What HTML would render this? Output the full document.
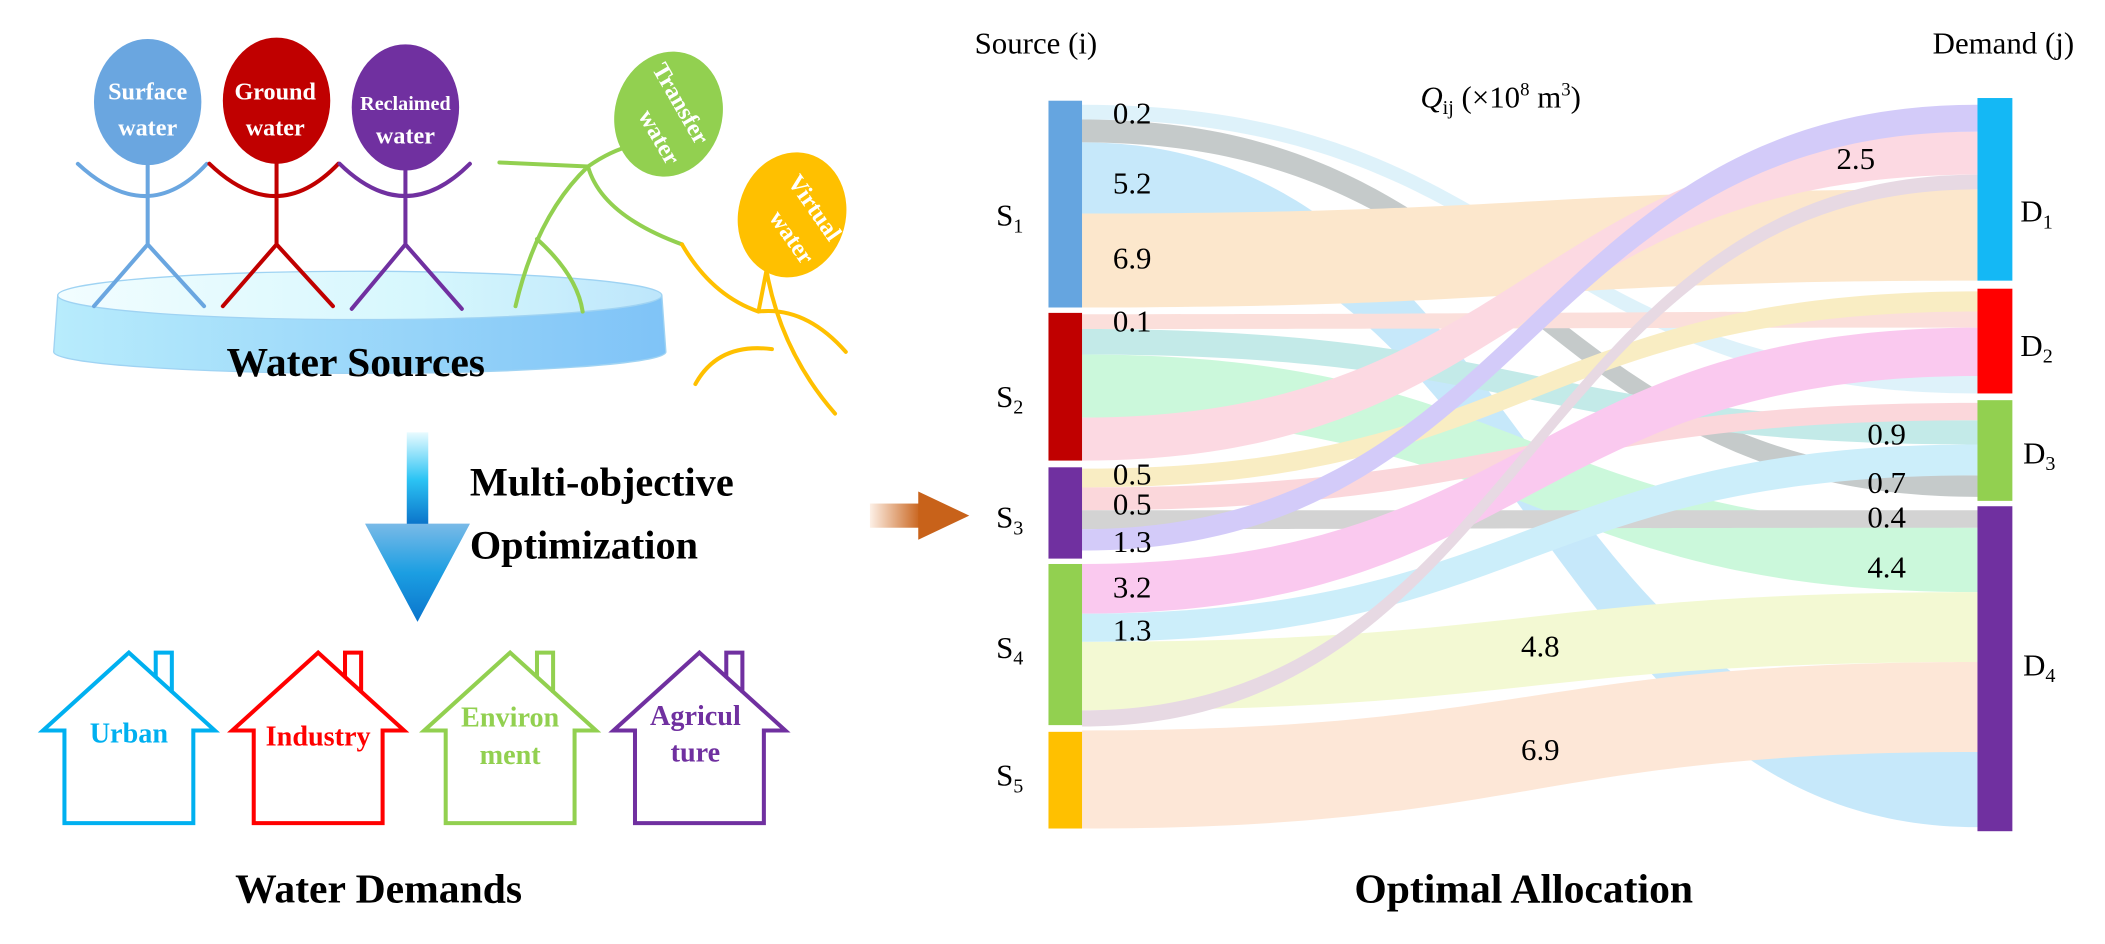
<!DOCTYPE html>
<html><head><meta charset="utf-8"><style>
html,body{margin:0;padding:0;background:#fff;}
svg{display:block;}
text{font-family:"Liberation Serif",serif;}
</style></head><body>
<svg width="2105" height="944" viewBox="0 0 1568 703" preserveAspectRatio="none" xmlns="http://www.w3.org/2000/svg">
<defs>
<linearGradient id="pool" x1="0" x2="1"><stop offset="0" stop-color="#b8ecfc"/><stop offset="1" stop-color="#7fc3f7"/></linearGradient>
<linearGradient id="pooltop" x1="0" x2="1"><stop offset="0" stop-color="#f2fdff"/><stop offset="0.6" stop-color="#d6f7fd"/><stop offset="1" stop-color="#bde6fb"/></linearGradient>
<linearGradient id="darr" x1="0" y1="0" x2="0" y2="1"><stop offset="0" stop-color="#e8fbff"/><stop offset="0.5" stop-color="#2cc4f4"/><stop offset="1" stop-color="#0a70c8"/></linearGradient>
<linearGradient id="oarr" x1="0" x2="1"><stop offset="0" stop-color="#fdf0e6"/><stop offset="1" stop-color="#c8621a"/></linearGradient>
</defs>
<rect width="1568" height="703" fill="#fff"/>

<!-- Pool -->
<path d="M43,220 L40,262 A228,16 0 0 0 496,262 L493,220 Z" fill="url(#pool)" stroke="#9fd3f3" stroke-width="1"/>
<ellipse cx="268" cy="220" rx="225" ry="18" fill="url(#pooltop)" stroke="#9fd3f3" stroke-width="1"/>
<text x="265" y="280" font-size="31" font-weight="bold" text-anchor="middle">Water Sources</text>

<!-- stick figures -->
<g fill="none" stroke-width="3" stroke-linecap="round">
 <g stroke="#6aa6e0"><path d="M110,120 V182 M58,122 Q110,170 154,122 M110,182 L70,228 M110,182 L152,228"/></g>
 <g stroke="#c00000"><path d="M206,120 V182 M156,122 Q206,170 252,122 M206,182 L166,228 M206,182 L248,228"/></g>
 <g stroke="#7030a0"><path d="M302,122 V182 M253,122 Q302,170 350,122 M302,182 L262,230 M302,182 L344,230"/></g>
 <g stroke="#92d050"><path d="M372,121 L438,124 Q455,112 472,108 M438,124 Q400,160 384,228 M400,178 Q430,205 434,232 M438,124 Q448,160 508,182"/></g>
 <g stroke="#ffc000"><path d="M508,182 Q530,220 565,232 M565,232 Q600,228 630,262 M570,196 Q580,260 622,308 M575,260 Q535,255 518,286 M565,232 L572,196"/></g>
</g>
<ellipse cx="110" cy="76" rx="40" ry="47" fill="#6aa6e0"/>
<ellipse cx="206" cy="75" rx="40" ry="47" fill="#c00000"/>
<ellipse cx="302" cy="80" rx="40" ry="47" fill="#7030a0"/>
<ellipse cx="498" cy="85" rx="40" ry="47" fill="#92d050" transform="rotate(15 498 85)"/>
<ellipse cx="590" cy="160" rx="40" ry="47" fill="#ffc000" transform="rotate(15 590 160)"/>
<g fill="#fff" font-weight="bold" font-size="18" text-anchor="middle">
 <text x="110" y="74">Surface</text><text x="110" y="101">water</text>
 <text x="205" y="74">Ground</text><text x="205" y="101">water</text>
 <text x="302" y="82" font-size="15">Reclaimed</text><text x="302" y="107">water</text>
 <text transform="translate(502,80) rotate(60)">Transfer</text>
 <text transform="translate(486,105) rotate(60)">water</text>
 <text transform="translate(602,158) rotate(55)">Virtual</text>
 <text transform="translate(585,180) rotate(55)">water</text>
</g>

<!-- down arrow -->
<rect x="303" y="322" width="16" height="70" fill="url(#darr)"/>
<path d="M272,390 L350,390 L311,463 Z" fill="#0b79d0"/>
<path d="M272,390 L350,390 L311,463 Z" fill="url(#darr)" opacity="0.5"/>
<text x="350" y="369" font-size="30" font-weight="bold">Multi-objective</text>
<text x="350" y="416" font-size="30" font-weight="bold">Optimization</text>

<!-- orange arrow -->
<rect x="648" y="375" width="38" height="18" fill="url(#oarr)"/>
<path d="M684,366 L722,384 L684,402 Z" fill="#c8621a"/>

<!-- houses -->
<g fill="none" stroke-width="3">
 <g stroke="#00b0f0"><path d="M96,486 L160,544 L144,544 L144,613 L48,613 L48,544 L32,544 Z M116,505 V486 H128 V516"/></g>
 <g stroke="#ff0000"><path d="M237,486 L301,544 L285,544 L285,613 L189,613 L189,544 L173,544 Z M257,505 V486 H269 V516"/></g>
 <g stroke="#92d050"><path d="M380,486 L444,544 L428,544 L428,613 L332,613 L332,544 L316,544 Z M400,505 V486 H412 V516"/></g>
 <g stroke="#7030a0"><path d="M521,486 L585,544 L569,544 L569,613 L473,613 L473,544 L457,544 Z M541,505 V486 H553 V516"/></g>
</g>
<g font-weight="bold" font-size="21" text-anchor="middle">
 <text x="96" y="553" fill="#00b0f0">Urban</text>
 <text x="237" y="555" fill="#ff0000">Industry</text>
 <text x="380" y="541" fill="#92d050">Environ</text>
 <text x="380" y="569" fill="#92d050">ment</text>
 <text x="518" y="540" fill="#7030a0">Agricul</text>
 <text x="518" y="567" fill="#7030a0">ture</text>
</g>
<text x="282" y="672" font-size="31" font-weight="bold" text-anchor="middle">Water Demands</text>

<!-- Sankey flows -->
<g opacity="0.5">
<path d="M806,78 C1140,78 1140,280 1473,280 L1473,293 C1140,293 1140,89 806,89 Z" fill="#bfe6f7"/>
<path d="M806,89 C1140,89 1140,354 1473,354 L1473,370 C1140,370 1140,106 806,106 Z" fill="#8c9696"/>
<path d="M806,106 C1140,106 1140,560 1473,560 L1473,616 C1140,616 1140,159 806,159 Z" fill="#8fd2f7"/>
<path d="M806,159 C1140,159 1140,141 1473,141 L1473,209 C1140,209 1140,229 806,229 Z" fill="#fbd09a"/>
<path d="M806,234 C1140,234 1140,232 1473,232 L1473,244 C1140,244 1140,245 806,245 Z" fill="#f8c0b8"/>
<path d="M806,245 C1140,245 1140,313 1473,313 L1473,331 C1140,331 1140,264 806,264 Z" fill="#88d6d2"/>
<path d="M806,264 C1140,264 1140,393 1473,393 L1473,441 C1140,441 1140,311 806,311 Z" fill="#98f3b8"/>
<path d="M806,311 C1140,311 1140,98 1473,98 L1473,130 C1140,130 1140,343 806,343 Z" fill="#fbb4c6"/>
<path d="M806,349 C1140,349 1140,217 1473,217 L1473,232 C1140,232 1140,363 806,363 Z" fill="#f4dd88"/>
<path d="M806,363 C1140,363 1140,300 1473,300 L1473,313 C1140,313 1140,380 806,380 Z" fill="#f8b0b8"/>
<path d="M806,380 C1140,380 1140,380 1473,380 L1473,393 C1140,393 1140,394 806,394 Z" fill="#a8a8a8"/>
<path d="M806,394 C1140,394 1140,78 1473,78 L1473,98 C1140,98 1140,410 806,410 Z" fill="#a898f5"/>
<path d="M806,420 C1140,420 1140,244 1473,244 L1473,280 C1140,280 1140,457 806,457 Z" fill="#f794e0"/>
<path d="M806,457 C1140,457 1140,331 1473,331 L1473,354 C1140,354 1140,478 806,478 Z" fill="#9adef7"/>
<path d="M806,478 C1140,478 1140,441 1473,441 L1473,493 C1140,493 1140,529 806,529 Z" fill="#e8f5a8"/>
<path d="M806,529 C1140,529 1140,130 1473,130 L1473,141 C1140,141 1140,541 806,541 Z" fill="#d0b4c8"/>
<path d="M806,544 C1140,544 1140,493 1473,493 L1473,560 C1140,560 1140,617 806,617 Z" fill="#fcd0b0"/>
</g>

<!-- Bars -->
<rect x="781" y="75" width="25" height="154" fill="#65a5e0"/>
<rect x="781" y="233" width="25" height="110" fill="#c00000"/>
<rect x="781" y="348" width="25" height="68" fill="#7030a0"/>
<rect x="781" y="420" width="25" height="120" fill="#92d050"/>
<rect x="781" y="545" width="25" height="72" fill="#ffc000"/>
<rect x="1473" y="73" width="26" height="136" fill="#14b8f5"/>
<rect x="1473" y="215" width="26" height="78" fill="#ff0000"/>
<rect x="1473" y="298" width="26" height="75" fill="#92d050"/>
<rect x="1473" y="377" width="26" height="242" fill="#7030a0"/>

<!-- Labels -->
<g font-size="23">
 <text x="726" y="40">Source (i)</text>
 <text x="1545" y="40" text-anchor="end">Demand (j)</text>
 <text x="1058" y="80"><tspan font-style="italic">Q</tspan><tspan font-size="15" dy="5">ij</tspan><tspan dy="-5"> (×10</tspan><tspan font-size="14" dy="-9">8</tspan><tspan dy="9"> m</tspan><tspan font-size="14" dy="-9">3</tspan><tspan dy="9">)</tspan></text>
 <text x="742" y="168">S<tspan font-size="15" dy="5">1</tspan></text>
 <text x="742" y="303">S<tspan font-size="15" dy="5">2</tspan></text>
 <text x="742" y="393">S<tspan font-size="15" dy="5">3</tspan></text>
 <text x="742" y="490">S<tspan font-size="15" dy="5">4</tspan></text>
 <text x="742" y="585">S<tspan font-size="15" dy="5">5</tspan></text>
 <text x="1505" y="165">D<tspan font-size="15" dy="5">1</tspan></text>
 <text x="1505" y="265">D<tspan font-size="15" dy="5">2</tspan></text>
 <text x="1507" y="345">D<tspan font-size="15" dy="5">3</tspan></text>
 <text x="1507" y="503">D<tspan font-size="15" dy="5">4</tspan></text>
 <text x="829" y="92">0.2</text>
 <text x="829" y="144">5.2</text>
 <text x="829" y="200">6.9</text>
 <text x="829" y="247">0.1</text>
 <text x="829" y="361">0.5</text>
 <text x="829" y="383">0.5</text>
 <text x="829" y="411">1.3</text>
 <text x="829" y="445">3.2</text>
 <text x="829" y="477">1.3</text>
 <text x="1133" y="489">4.8</text>
 <text x="1133" y="566">6.9</text>
 <text x="1368" y="126">2.5</text>
 <text x="1391" y="331">0.9</text>
 <text x="1391" y="367">0.7</text>
 <text x="1391" y="393">0.4</text>
 <text x="1391" y="430">4.4</text>
</g>
<text x="1135" y="672" font-size="31" font-weight="bold" text-anchor="middle">Optimal Allocation</text>
</svg>
</body></html>
